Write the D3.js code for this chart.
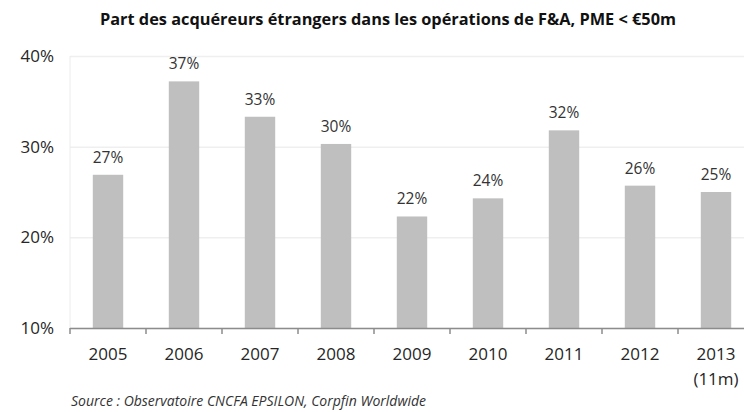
<!DOCTYPE html>
<html>
<head>
<meta charset="utf-8">
<script src="https://cdn.jsdelivr.net/npm/d3@7"></script>
<style>
  body { margin: 0; background: #fff; }
  svg { display: block; }
</style>
</head>
<body>
<div id="container"></div>
<script>
// data
const years = ["2005", "2006", "2007", "2008", "2009", "2010", "2011", "2012", "2013"];
const yearSub = ["", "", "", "", "", "", "", "", "(11m)"];
const shares = [26.9, 37.2, 33.3, 30.3, 22.3, 24.3, 31.8, 25.7, 25.0];
const shareLabels = ["27%", "37%", "33%", "30%", "22%", "24%", "32%", "26%", "25%"];
const yTicks = [10, 20, 30, 40];

const titleText = "Part des acquéreurs étrangers dans les opérations de F&A, PME < €50m";
const sourceText = "Source : Observatoire CNCFA EPSILON, Corpfin Worldwide";

const width = 744;
const height = 412;
const font = "'Open Sans', sans-serif";

const svg = d3.select('#container')
  .append('svg')
  .attr('width', width)
  .attr('height', height);

const xScale = d3.scaleBand()
  .domain(years)
  .range([70, 754])
  .paddingInner(0.6)
  .paddingOuter(0.3);

const yScale = d3.scaleLinear()
  .domain([10, 40])
  .range([328, 56]);

// gridlines
svg.append('g')
  .attr('class', 'grid')
  .attr('transform', 'translate(70,0)')
  .call(d3.axisLeft(yScale).tickValues(yTicks).tickSize(-(width - 70)).tickFormat(''))
  .call(g => g.select('.domain').remove())
  .call(g => g.selectAll('line').attr('stroke', '#efefef').attr('stroke-width', 1.5));

// faint vertical axis
svg.append('line')
  .attr('x1', 70).attr('x2', 70)
  .attr('y1', yScale(40)).attr('y2', yScale(10))
  .attr('stroke', '#ececec')
  .attr('stroke-width', 1);

// y tick labels
svg.append('g')
  .attr('transform', 'translate(70,0)')
  .call(d3.axisLeft(yScale).tickValues(yTicks).tickSize(0).tickPadding(16).tickFormat(d => d + '%'))
  .call(g => g.select('.domain').remove())
  .call(g => g.selectAll('text')
    .attr('font-family', font)
    .attr('font-size', 17)
    .attr('fill', '#262626'));

// bars
svg.selectAll('.bar')
  .data(shares)
  .join('rect')
  .attr('class', 'bar')
  .attr('x', (d, i) => xScale(years[i]))
  .attr('width', xScale.bandwidth())
  .attr('y', d => yScale(d))
  .attr('height', d => yScale(10) - yScale(d))
  .attr('fill', '#bfbfbf');

// value labels
svg.selectAll('.val')
  .data(shares)
  .join('text')
  .attr('class', 'val')
  .attr('x', (d, i) => xScale(years[i]) + xScale.bandwidth() / 2)
  .attr('y', d => yScale(d) - 12)
  .attr('text-anchor', 'middle')
  .attr('font-family', font)
  .attr('font-size', 15.5)
  .attr('fill', '#333')
  .text((d, i) => shareLabels[i]);

// x axis with ticks between categories
const xEdge = d3.scaleLinear().domain([0, years.length]).range([70, 754]);
const xAxisG = svg.append('g').attr('class', 'x-axis');
xAxisG.append('line')
  .attr('x1', 70).attr('x2', width)
  .attr('y1', 328.5).attr('y2', 328.5)
  .attr('stroke', '#8c8c8c')
  .attr('stroke-width', 1.5);
xAxisG.selectAll('.tk')
  .data(d3.range(years.length))
  .join('line')
  .attr('class', 'tk')
  .attr('x1', d => xEdge(d)).attr('x2', d => xEdge(d))
  .attr('y1', 328).attr('y2', 334)
  .attr('stroke', '#8c8c8c')
  .attr('stroke-width', 1.5);

// year labels
svg.selectAll('.yr')
  .data(years)
  .join('text')
  .attr('class', 'yr')
  .attr('x', d => xScale(d) + xScale.bandwidth() / 2)
  .attr('y', 360)
  .attr('text-anchor', 'middle')
  .attr('font-family', font)
  .attr('font-size', 17)
  .attr('fill', '#262626')
  .text(d => d);
svg.selectAll('.yrsub')
  .data(years)
  .join('text')
  .attr('class', 'yrsub')
  .attr('x', d => xScale(d) + xScale.bandwidth() / 2)
  .attr('y', 385)
  .attr('text-anchor', 'middle')
  .attr('font-family', font)
  .attr('font-size', 17)
  .attr('fill', '#262626')
  .text((d, i) => yearSub[i]);

// title
const title = svg.append('text')
  .attr('x', 388)
  .attr('y', 25)
  .attr('text-anchor', 'middle')
  .attr('font-family', font)
  .attr('font-weight', 'bold')
  .attr('font-size', 16.5)
  .attr('fill', '#111')
  .text(titleText);
if (title.node().getComputedTextLength() > 576) {
  title.attr('textLength', 576).attr('lengthAdjust', 'spacingAndGlyphs');
}

// source
const src = svg.append('text')
  .attr('x', 71)
  .attr('y', 406)
  .attr('font-family', font)
  .attr('font-style', 'italic')
  .attr('font-size', 14)
  .attr('fill', '#333')
  .text(sourceText);
if (src.node().getComputedTextLength() > 364) {
  src.attr('textLength', 364).attr('lengthAdjust', 'spacingAndGlyphs');
}
</script>
</body>
</html>
